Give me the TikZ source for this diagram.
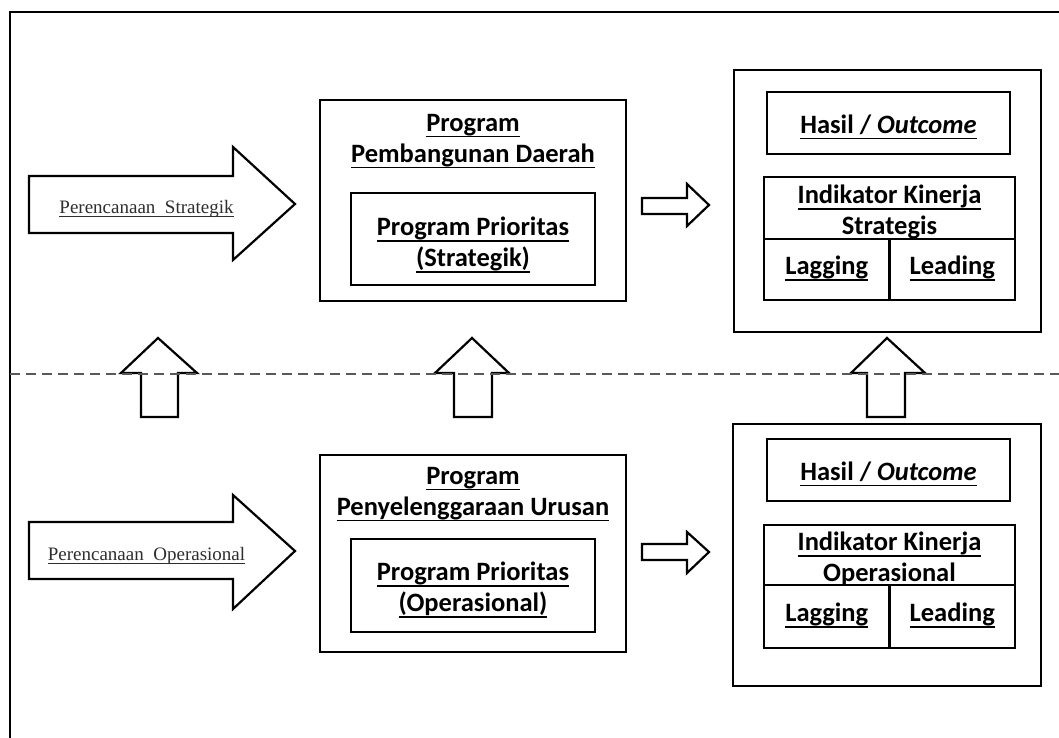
\documentclass[tikz,border=0pt]{standalone}
\usepackage{fontspec}
\newfontfamily\calfont{Carlito}
\newfontfamily\serfont{Liberation Serif}
\newcommand\ulw[1]{\setbox0\hbox{#1}\rlap{\rule[-6pt]{\wd0}{1.5pt}}\box0}
\newcommand\uls[1]{\setbox0\hbox{#1}\rlap{\rule[-3.5pt]{\wd0}{0.9pt}}\box0}
\begin{document}
\begin{tikzpicture}[x=1pt,y=-1pt,
  box/.style={draw=black, line width=2.5pt, fill=white, inner sep=0pt},
  barrow/.style={draw=black, line width=2.2pt, fill=white, line join=miter},
  btext/.style={font=\calfont\bfseries\fontsize{26.5}{31}\selectfont, align=center, inner sep=0pt},
  stext/.style={font=\serfont\fontsize{19}{22}\selectfont, text=black!82, inner sep=0pt, anchor=base},
  divider/.style={draw=black!65, line width=1.5pt, dash pattern=on 10pt off 6pt}]
\useasboundingbox (0,0) rectangle (1059,738);
\fill[white] (0,0) rectangle (1059,738);
% outer frame
\coordinate (fb) at (10,745);
\coordinate (ftl) at (10,12);
\coordinate (fr) at (1065,12);
\draw[line width=2.2pt] (fb) -- (ftl) -- (fr);

% big arrows
\draw[barrow] (29,176) -- (233,176) -- (233,147) -- (295,204) -- (233,260) -- (233,233) -- (29,233) -- cycle;
\node[stext] (ps) at (146.5,213) {\uls{Perencanaan\ \ Strategik}};
\draw[barrow] (29,522) -- (233,522) -- (233,495) -- (295,551) -- (233,609) -- (233,579) -- (29,579) -- cycle;
\node[stext] (po) at (146.5,560) {\uls{Perencanaan\ \ Operasional}};

% middle boxes
\node[box, minimum width=306, minimum height=201] (pd) at (473,200.5) {};
\node[btext] (pdt) at (473,141) {\ulw{Program}\\\ulw{Pembangunan Daerah}};
\node[box, minimum width=244, minimum height=92] (pps) at (473,239) {};
\node[btext] (ppst) at (473,245) {\ulw{Program Prioritas}\\\ulw{(Strategik)}};

\node[box, minimum width=306, minimum height=197] (pu) at (473,553.5) {};
\node[btext] (put) at (473,494) {\ulw{Program}\\\ulw{Penyelenggaraan Urusan}};
\node[box, minimum width=244, minimum height=93] (ppo) at (473,585.5) {};
\node[btext] (ppot) at (473,590) {\ulw{Program Prioritas}\\\ulw{(Operasional)}};

% small right arrows
\draw[barrow] (642,198) -- (687,198) -- (687,184) -- (709,205) -- (687,226) -- (687,214) -- (642,214) -- cycle;
\draw[barrow] (642,544) -- (687,544) -- (687,532) -- (709,552) -- (687,573) -- (687,560) -- (642,560) -- cycle;

% right boxes (top)
\node[box, minimum width=307, minimum height=262] (rs) at (887.5,201) {};
\node[box, minimum width=243, minimum height=62] (hs) at (888.5,123) {};
\node[btext] at (888.5,127) {\ulw{Hasil / \itshape Outcome}};
\node[box, minimum width=251, minimum height=62] (iks) at (889.5,208) {};
\node[btext] at (889.5,213) {\ulw{Indikator Kinerja}\\\ulw{Strategis}};
\node[box, minimum width=125.5, minimum height=61] (lgs) at (826.75,269.5) {};
\node[box, minimum width=125.5, minimum height=61] (lds) at (952.25,269.5) {};
\node[btext] at ([yshift=1]lgs.center) {\ulw{Lagging}};
\node[btext] at ([yshift=1]lds.center) {\ulw{Leading}};

% right boxes (bottom)
\node[box, minimum width=308, minimum height=262] (ro) at (887,555) {};
\node[box, minimum width=243, minimum height=62] (ho) at (888.5,470) {};
\node[btext] at (888.5,474) {\ulw{Hasil / \itshape Outcome}};
\node[box, minimum width=251, minimum height=60] (iko) at (889.5,555) {};
\node[btext] at (889.5,560) {\ulw{Indikator Kinerja}\\\ulw{Operasional}};
\node[box, minimum width=125.5, minimum height=63] (lgo) at (826.75,616.5) {};
\node[box, minimum width=125.5, minimum height=63] (ldo) at (952.25,616.5) {};
\node[btext] at ([yshift=1]lgo.center) {\ulw{Lagging}};
\node[btext] at ([yshift=1]ldo.center) {\ulw{Leading}};

% up arrows
\draw[barrow] (141,417) -- (141,373) -- (121,373) -- (158,338) -- (197,373) -- (178,373) -- (178,417) -- cycle;
\draw[barrow] (454,417) -- (454,373) -- (435,373) -- (472,338) -- (509,373) -- (492,373) -- (492,417) -- cycle;
\draw[barrow] (867,417) -- (867,373) -- (851,373) -- (887,338) -- (925,373) -- (905,373) -- (905,417) -- cycle;

% dashed divider
\coordinate (dl) at (10,374);
\coordinate (dr) at (1065,374);
\draw[divider] (dl) -- (dr);
\end{tikzpicture}
\end{document}
